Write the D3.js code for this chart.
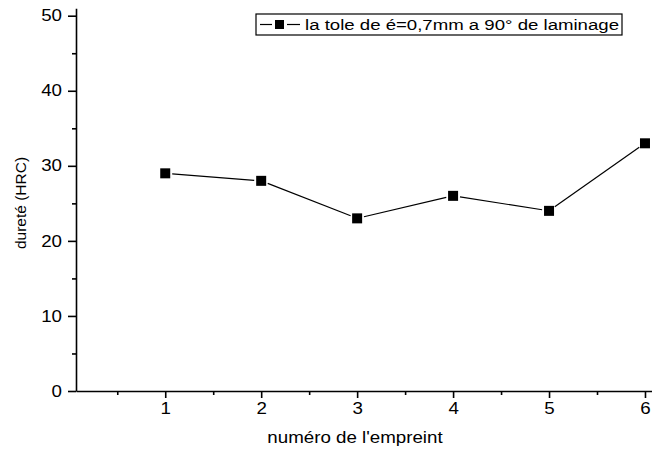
<!DOCTYPE html>
<html>
<head>
<meta charset="utf-8">
<script src="https://cdn.jsdelivr.net/npm/d3@7"></script>
<style>
  html, body { margin: 0; padding: 0; background: #fff; }
  svg { display: block; font-family: "Liberation Sans", Arial, sans-serif; }
</style>
</head>
<body>
<svg id="chart" width="652" height="450"></svg>
<script>
// ---- data ----
const categories = [1, 2, 3, 4, 5, 6];
const durete = [29, 28, 23, 26, 24, 33];
const xMajorTicks = [1, 2, 3, 4, 5, 6];
const xMinorTicks = [0.5, 1.5, 2.5, 3.5, 4.5, 5.5];
const yMajorTicks = [0, 10, 20, 30, 40, 50];
const yMinorTicks = [5, 15, 25, 35, 45];
const seriesName = "la tole de é=0,7mm a 90° de laminage";
const xTitle = "numéro de l'empreint";
const yTitle = "dureté (HRC)";

const STRETCH = 1.17;
const svg = d3.select("#chart");

const x = d3.scaleLinear().domain([0.07, 6.07]).range([76, 651.7]);
const y = d3.scaleLinear().domain([0, 51]).range([391, 8.2]);

function stretch(sel, factor) {
  sel.each(function () {
    const w = this.getComputedTextLength();
    d3.select(this).attr("textLength", w * (factor || STRETCH)).attr("lengthAdjust", "spacingAndGlyphs");
  });
}

// x axis
const gx = svg.append("g").attr("transform", `translate(0,${y(0)})`);
gx.call(d3.axisBottom(x).tickValues(xMajorTicks).tickSize(7).tickSizeOuter(0).tickPadding(5).tickFormat(d3.format("d")));
const gxm = svg.append("g").attr("transform", `translate(0,${y(0)})`);
gxm.call(d3.axisBottom(x).tickValues(xMinorTicks).tickSize(4).tickSizeOuter(0).tickFormat(""));
gxm.select(".domain").remove();

// y axis
const gy = svg.append("g").attr("transform", `translate(${x(0.07)},0)`);
gy.call(d3.axisLeft(y).tickValues(yMajorTicks).tickSize(8).tickSizeOuter(0).tickPadding(6).tickFormat(d3.format("d")));
const gym = svg.append("g").attr("transform", `translate(${x(0.07)},0)`);
gym.call(d3.axisLeft(y).tickValues(yMinorTicks).tickSize(4).tickSizeOuter(0).tickFormat(""));
gym.select(".domain").remove();

svg.selectAll(".domain, .tick line").attr("stroke", "#000").attr("stroke-width", 1.6);
svg.selectAll(".tick text").attr("font-size", 16).attr("fill", "#000")
   .attr("font-family", "'Liberation Sans', Arial, sans-serif");
svg.selectAll(".tick text").call(stretch);

// line segments (with small gaps around markers, Origin style)
const pts = categories.map((c, i) => ({ x: c, y: durete[i] }));
const gap = 7;
const segs = d3.pairs(pts).map(([a, b]) => {
  const x1 = x(a.x), y1 = y(a.y), x2 = x(b.x), y2 = y(b.y);
  const L = Math.hypot(x2 - x1, y2 - y1), ux = (x2 - x1) / L, uy = (y2 - y1) / L;
  return { x1: x1 + ux * gap, y1: y1 + uy * gap, x2: x2 - ux * gap, y2: y2 - uy * gap };
});
svg.selectAll("line.seg").data(segs).enter().append("line")
  .attr("class", "seg")
  .attr("x1", d => d.x1).attr("y1", d => d.y1)
  .attr("x2", d => d.x2).attr("y2", d => d.y2)
  .attr("stroke", "#000").attr("stroke-width", 1.2);

const ms = 10;
svg.selectAll("rect.pt").data(pts).enter().append("rect")
  .attr("class", "pt")
  .attr("x", d => x(d.x) - ms / 2)
  .attr("y", d => y(d.y) - ms / 2)
  .attr("width", ms).attr("height", ms)
  .attr("fill", "#000");

// axis titles
svg.append("text")
  .attr("x", 355).attr("y", 443)
  .attr("text-anchor", "middle")
  .attr("font-size", 16)
  .text(xTitle).call(stretch);

svg.append("text")
  .attr("transform", `translate(26,203) rotate(-90)`)
  .attr("text-anchor", "middle")
  .attr("font-size", 15.5)
  .text(yTitle);

// legend
const lg = svg.append("g");
lg.append("rect").attr("x", 256).attr("y", 14).attr("width", 366).attr("height", 21)
  .attr("fill", "#fff").attr("stroke", "#000").attr("stroke-width", 1.2);
lg.append("line").attr("x1", 260).attr("x2", 272).attr("y1", 24.5).attr("y2", 24.5)
  .attr("stroke", "#000").attr("stroke-width", 1.2);
lg.append("line").attr("x1", 287).attr("x2", 300).attr("y1", 24.5).attr("y2", 24.5)
  .attr("stroke", "#000").attr("stroke-width", 1.2);
lg.append("rect").attr("x", 279.5 - 4.5).attr("y", 24.5 - 4.5).attr("width", 9).attr("height", 9).attr("fill", "#000");
lg.append("text").attr("x", 305).attr("y", 30).attr("font-size", 15.5).text(seriesName)
  .each(function () { d3.select(this).attr("textLength", 314).attr("lengthAdjust", "spacingAndGlyphs"); });
</script>
</body>
</html>
